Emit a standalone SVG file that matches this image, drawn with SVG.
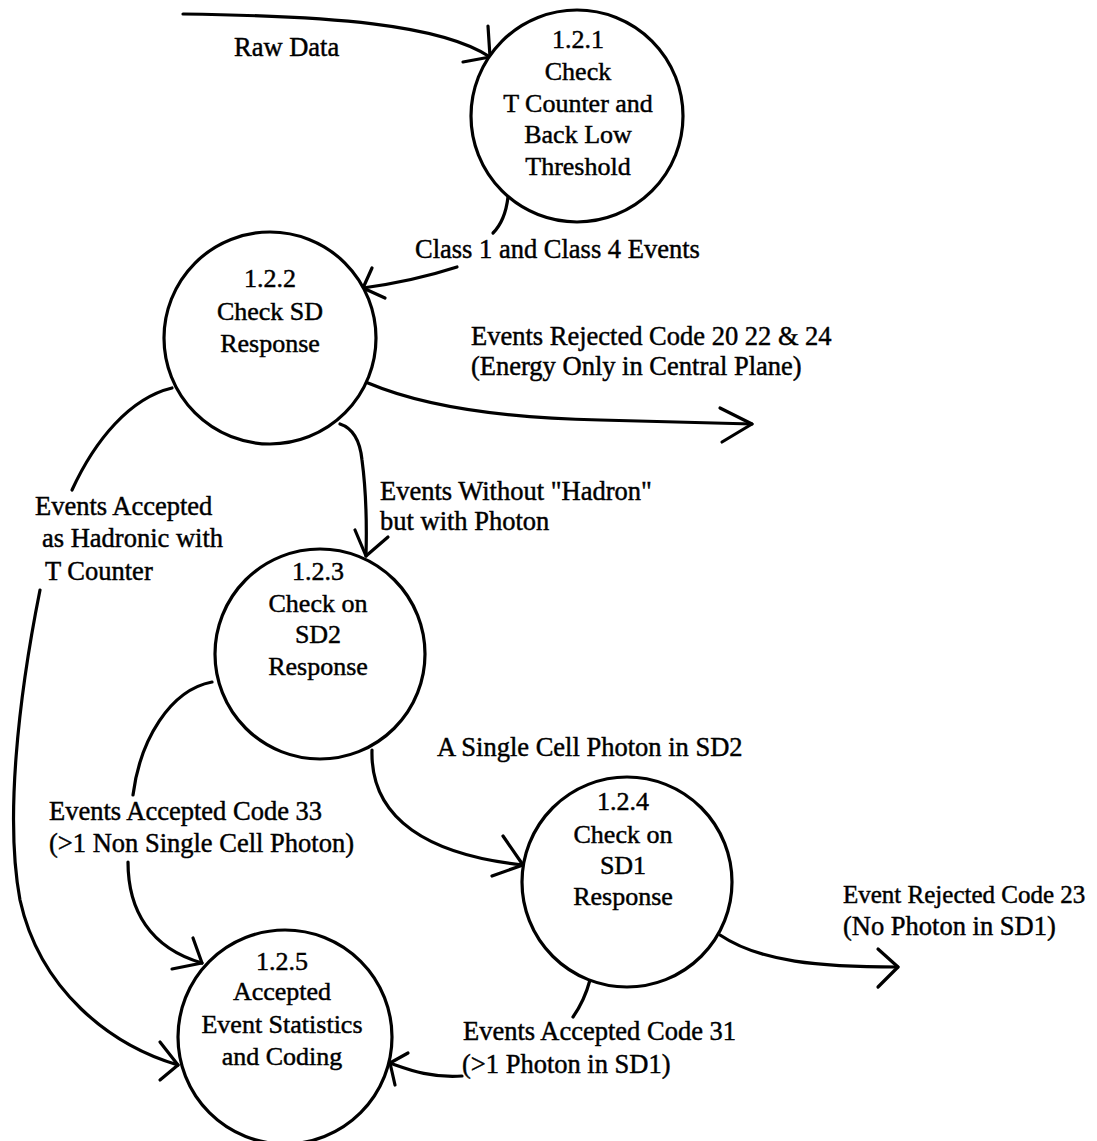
<svg xmlns="http://www.w3.org/2000/svg" width="1097" height="1141" viewBox="0 0 1097 1141">
<style>
.node{fill:#fff;stroke:#000;stroke-width:3.2}
.t{font-family:'Liberation Serif','Times New Roman',Times,serif;font-size:26px;fill:#000;stroke:#000;stroke-width:0.45;text-anchor:middle}
.l{font-family:'Liberation Serif','Times New Roman',Times,serif;font-size:26.5px;fill:#000;stroke:#000;stroke-width:0.45}
.c{fill:none;stroke:#000;stroke-width:3.2;stroke-linecap:round;stroke-linejoin:round}
</style>
<rect width="1097" height="1141" fill="#fff"/>
<g id="connectors">
<path class="c" d="M183,14 C330,16 440,24 490,57"/>
<path class="c" d="M488,26 L490,57 L463,62"/>
<path class="c" d="M508,197 C506,214 501,225 493,233"/>
<path class="c" d="M457,267 C420,279 392,284 363,288"/>
<path class="c" d="M372,268 L363,288 L385,298"/>
<path class="c" d="M368,383 C420,405 500,418 600,420 L752,424"/>
<path class="c" d="M720,408 L752,424 L722,442"/>
<path class="c" d="M340,424 C352,428 360,440 362,460 C366,490 367,520 366,556"/>
<path class="c" d="M355,530 L366,556 L388,537"/>
<path class="c" d="M172,388 C130,398 95,440 72,490"/>
<path class="c" d="M40,590 C18,700 5,820 20,900 C40,990 110,1045 178,1065"/>
<path class="c" d="M160,1042 L178,1065 L160,1080"/>
<path class="c" d="M212,682 C170,690 140,740 133,795"/>
<path class="c" d="M128,862 C128,910 150,948 202,963"/>
<path class="c" d="M193,938 L202,963 L172,969"/>
<path class="c" d="M372,750 C370,820 430,855 523,865"/>
<path class="c" d="M503,836 L523,865 L492,876"/>
<path class="c" d="M720,935 C760,962 820,967 898,967"/>
<path class="c" d="M878,949 L898,967 L878,987"/>
<path class="c" d="M590,980 C586,995 580,1007 573,1017"/>
<path class="c" d="M462,1076 C430,1078 410,1070 390,1063"/>
<path class="c" d="M408,1053 L390,1063 L395,1085"/>
</g>
<g id="labels" font-family="Liberation Serif, Times New Roman, serif" font-size="26.5">
<text class="l" x="234" y="56">Raw Data</text>
<text class="l" x="415" y="258">Class 1 and Class 4 Events</text>
<text class="l" x="471" y="345">Events Rejected Code 20 22 &amp; 24</text>
<text class="l" x="471" y="375">(Energy Only in Central Plane)</text>
<text class="l" x="380" y="500">Events Without "Hadron"</text>
<text class="l" x="380" y="530">but with Photon</text>
<text class="l" x="35" y="515">Events Accepted</text>
<text class="l" x="42" y="547">as Hadronic with</text>
<text class="l" x="45" y="580">T Counter</text>
<text class="l" x="437" y="756">A Single Cell Photon in SD2</text>
<text class="l" x="49" y="820">Events Accepted Code 33</text>
<text class="l" x="49" y="852">(&gt;1 Non Single Cell Photon)</text>
<text class="l" x="843" y="903" style="font-size:25px">Event Rejected Code 23</text>
<text class="l" x="843" y="935">(No Photon in SD1)</text>
<text class="l" x="463" y="1040">Events Accepted Code 31</text>
<text class="l" x="462" y="1073">(&gt;1 Photon in SD1)</text>
</g>
<g id="n121" font-family="Liberation Serif, Times New Roman, serif">
<circle class="node" cx="577" cy="116" r="106"/>
<text class="t" x="578" y="48">1.2.1</text>
<text class="t" x="578" y="80">Check</text>
<text class="t" x="578" y="112">T Counter and</text>
<text class="t" x="578" y="143">Back Low</text>
<text class="t" x="578" y="175">Threshold</text>
</g>
<g id="n122" font-family="Liberation Serif, Times New Roman, serif">
<circle class="node" cx="270" cy="338" r="106"/>
<text class="t" x="270" y="287">1.2.2</text>
<text class="t" x="270" y="320">Check SD</text>
<text class="t" x="270" y="352">Response</text>
</g>
<g id="n123" font-family="Liberation Serif, Times New Roman, serif">
<circle class="node" cx="320" cy="654" r="105"/>
<text class="t" x="318" y="580">1.2.3</text>
<text class="t" x="318" y="612">Check on</text>
<text class="t" x="318" y="643">SD2</text>
<text class="t" x="318" y="675">Response</text>
</g>
<g id="n124" font-family="Liberation Serif, Times New Roman, serif">
<circle class="node" cx="627" cy="882" r="105"/>
<text class="t" x="623" y="810">1.2.4</text>
<text class="t" x="623" y="843">Check on</text>
<text class="t" x="623" y="874">SD1</text>
<text class="t" x="623" y="905">Response</text>
</g>
<g id="n125" font-family="Liberation Serif, Times New Roman, serif">
<circle class="node" cx="285" cy="1037" r="107"/>
<text class="t" x="282" y="970">1.2.5</text>
<text class="t" x="282" y="1000">Accepted</text>
<text class="t" x="282" y="1033">Event Statistics</text>
<text class="t" x="282" y="1065">and Coding</text>
</g>
</svg>
